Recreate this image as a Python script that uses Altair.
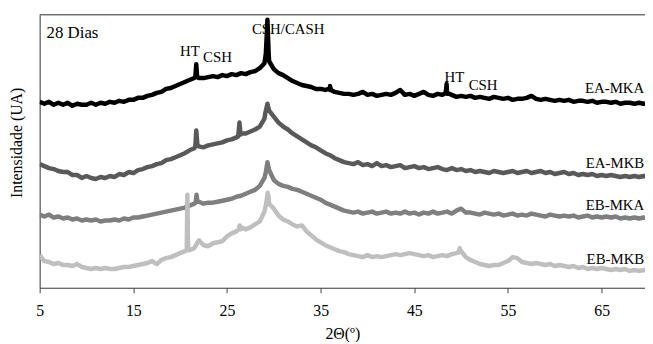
import altair as alt
import pandas as pd

# 2-theta grid (degrees), 0.5 step
two_theta = [5.0, 5.5, 6.0, 6.5, 7.0, 7.5, 8.0, 8.5, 9.0, 9.5, 10.0, 10.5, 11.0, 11.5, 12.0, 12.5,
             13.0, 13.5, 14.0, 14.5, 15.0, 15.5, 16.0, 16.5, 17.0, 17.5, 18.0, 18.5, 19.0, 19.5, 20.0, 20.5,
             21.0, 21.5, 22.0, 22.5, 23.0, 23.5, 24.0, 24.5, 25.0, 25.5, 26.0, 26.5, 27.0, 27.5, 28.0, 28.5,
             29.0, 29.5, 30.0, 30.5, 31.0, 31.5, 32.0, 32.5, 33.0, 33.5, 34.0, 34.5, 35.0, 35.5, 36.0, 36.5,
             37.0, 37.5, 38.0, 38.5, 39.0, 39.5, 40.0, 40.5, 41.0, 41.5, 42.0, 42.5, 43.0, 43.5, 44.0, 44.5,
             45.0, 45.5, 46.0, 46.5, 47.0, 47.5, 48.0, 48.5, 49.0, 49.5, 50.0, 50.5, 51.0, 51.5, 52.0, 52.5,
             53.0, 53.5, 54.0, 54.5, 55.0, 55.5, 56.0, 56.5, 57.0, 57.5, 58.0, 58.5, 59.0, 59.5, 60.0, 60.5,
             61.0, 61.5, 62.0, 62.5, 63.0, 63.5, 64.0, 64.5, 65.0, 65.5, 66.0, 66.5, 67.0, 67.5, 68.0, 68.5,
             69.0, 69.5, 70.0]

ea_mka = [187, 185, 187, 184, 186, 184, 186, 183, 185, 184, 184, 186, 184, 186, 185, 187,
          186, 188, 187, 189, 189, 191, 191, 193, 194, 196, 197, 200, 201, 203, 205, 207,
          209, 211, 211, 211, 212, 213, 212, 214, 213, 215, 214, 216, 215, 217, 218, 221,
          226, 228, 220, 216, 214, 211, 208, 206, 204, 203, 202, 200, 200, 199, 199, 197,
          196, 195, 195, 194, 195, 197, 194, 195, 193, 194, 195, 194, 196, 199, 194, 195,
          193, 195, 197, 194, 193, 195, 194, 195, 194, 192, 193, 192, 193, 191, 192, 191,
          190, 192, 191, 190, 191, 189, 190, 190, 191, 193, 190, 189, 190, 189, 188, 189,
          188, 189, 187, 188, 188, 187, 188, 186, 187, 187, 186, 187, 185, 186, 186, 185,
          186, 185, 185]
ea_mka_peaks_x = [21.62, 21.72, 21.82, 29.15, 29.32, 29.45, 35.9, 36.0, 36.1, 48.35, 48.45, 48.55]
ea_mka_peaks_y = [212, 225, 212, 236, 270, 236, 200, 203, 199, 196, 205, 196]

ea_mkb = [124, 122, 120, 119, 117, 116, 116, 113, 113, 110, 112, 110, 109, 111, 110, 112,
          111, 114, 113, 116, 115, 118, 119, 121, 122, 124, 125, 128, 129, 131, 133, 135,
          138, 140, 142, 141, 143, 144, 145, 146, 148, 149, 151, 155, 155, 157, 159, 162,
          170, 178, 172, 166, 162, 159, 155, 152, 149, 146, 143, 141, 138, 135, 133, 130,
          128, 126, 125, 124, 126, 123, 124, 122, 125, 122, 123, 121, 122, 123, 120, 121,
          122, 120, 121, 119, 120, 121, 119, 118, 120, 118, 119, 117, 118, 116, 117, 116,
          115, 117, 116, 115, 116, 117, 115, 116, 117, 115, 116, 117, 115, 116, 114, 115,
          116, 114, 115, 113, 114, 113, 114, 112, 113, 112, 113, 112, 111, 112, 111, 112,
          111, 112, 111]
ea_mkb_peaks_x = [21.62, 21.72, 21.85, 26.2, 26.33, 26.45, 29.1, 29.32, 29.45]
ea_mkb_peaks_y = [142, 158, 143, 152, 166, 154, 176, 185, 180]

eb_mka = [73, 71, 73, 70, 71, 69, 70, 68, 69, 67, 68, 67, 68, 66, 67, 67,
          68, 67, 69, 68, 70, 70, 71, 72, 73, 74, 75, 76, 77, 78, 79, 80,
          82, 84, 86, 84, 85, 85, 86, 87, 88, 89, 91, 92, 94, 96, 98, 102,
          110, 118, 108, 104, 102, 101, 99, 98, 96, 94, 92, 90, 88, 85, 83, 81,
          79, 77, 76, 75, 76, 74, 75, 76, 74, 75, 76, 74, 75, 74, 76, 74,
          75, 73, 75, 74, 76, 74, 75, 76, 74, 77, 79, 75, 75, 74, 73, 75,
          74, 73, 74, 72, 73, 74, 72, 73, 72, 74, 73, 72, 71, 73, 72, 71,
          72, 71, 72, 70, 71, 72, 70, 71, 70, 71, 70, 71, 69, 70, 69, 70,
          69, 70, 69]
eb_mka_peaks_x = [21.65, 21.75, 21.85, 29.15, 29.32, 29.45]
eb_mka_peaks_y = [85, 93, 86, 116, 126, 120]

eb_mkb = [32, 26, 25, 23, 24, 22, 22, 21, 23, 20, 19, 18, 19, 18, 19, 18,
          18, 19, 20, 20, 21, 22, 23, 24, 26, 23, 27, 29, 30, 32, 34, 36,
          37, 39, 47, 42, 41, 44, 45, 46, 51, 54, 56, 60, 58, 60, 63, 66,
          76, 84, 79, 72, 68, 66, 63, 61, 62, 56, 52, 48, 45, 42, 40, 38,
          36, 35, 33, 32, 31, 30, 32, 30, 31, 30, 31, 32, 33, 32, 33, 34,
          33, 32, 31, 32, 30, 31, 32, 31, 33, 34, 36, 30, 27, 25, 23, 22,
          21, 22, 22, 24, 26, 30, 29, 25, 24, 23, 24, 23, 22, 23, 21, 22,
          21, 20, 21, 19, 20, 18, 19, 18, 19, 18, 17, 18, 17, 18, 16, 17,
          16, 17, 16]
eb_mkb_peaks_x = [20.7, 20.77, 20.85, 26.25, 26.35, 26.45, 29.2, 29.35, 29.45, 49.75, 49.85, 49.95]
eb_mkb_peaks_y = [37, 93, 37, 58, 62, 58, 85, 95, 90, 35, 39, 35]

series_names = ["EA-MKA", "EA-MKB", "EB-MKA", "EB-MKB"]
series_colors = ["#000000", "#595959", "#7f7f7f", "#bfbfbf"]

rows = []
for name, vals, px, py in [("EA-MKA", ea_mka, ea_mka_peaks_x, ea_mka_peaks_y),
                           ("EA-MKB", ea_mkb, ea_mkb_peaks_x, ea_mkb_peaks_y),
                           ("EB-MKA", eb_mka, eb_mka_peaks_x, eb_mka_peaks_y),
                           ("EB-MKB", eb_mkb, eb_mkb_peaks_x, eb_mkb_peaks_y)]:
    pts = list(zip(two_theta, vals)) + list(zip(px, py))
    pts.sort(key=lambda p: p[0])
    for x, y in pts:
        rows.append({"serie": name, "theta": x, "I": y})
df = pd.DataFrame(rows)

# annotations (data coordinates)
peak_text = ["HT", "CSH", "CSH/CASH", "HT", "CSH"]
peak_x = [21.05, 23.99, 31.54, 49.28, 52.34]
peak_y = [238, 232, 261, 212, 204]
label_x = [69.55, 69.55, 69.55, 69.55]
label_y = [200.5, 125.5, 82.5, 28.5]

FONT = "'Liberation Serif', 'Times New Roman', Times, serif"
AX = "#404040"
XMAX = 69.63

xs = alt.Scale(domain=[5, XMAX], nice=False, zero=False)
ys = alt.Scale(domain=[-1, 275], nice=False, zero=False)

lines = alt.Chart(df).mark_line(strokeWidth=4.5, clip=True, strokeJoin="round").encode(
    x=alt.X("theta:Q", scale=xs,
            axis=alt.Axis(values=[5, 15, 25, 35, 45, 55, 65], title="2Θ(º)", grid=False,
                          domainColor=AX, tickColor=AX, tickSize=5, labelFont=FONT, labelFontSize=16,
                          labelColor="#000000", labelPadding=10, titleFont=FONT, titleFontSize=16,
                          titleFontWeight="normal", titleColor="#000000", titleY=46,
                          titleBaseline="middle", labelFlush=False)),
    y=alt.Y("I:Q", scale=ys,
            axis=alt.Axis(labels=False, ticks=False, grid=False, domainColor=AX,
                          title="Intensidade (UA)", titleFont=FONT, titleFontSize=16,
                          titleFontWeight="normal", titleColor="#000000", titleX=-23, titleY=129,
                          titleAlign="center", titleBaseline="middle", titleAngle=270)),
    color=alt.Color("serie:N", scale=alt.Scale(domain=series_names, range=series_colors), legend=None),
    order=alt.Order("theta:Q"),
)

top_rule = alt.Chart(pd.DataFrame({"a": [0]})).mark_rule(color=AX, strokeWidth=1).encode(y=alt.value(0))

ann_df = pd.DataFrame({"t": peak_text, "x": peak_x, "y": peak_y})
ann = alt.Chart(ann_df).mark_text(font=FONT, fontSize=15, align="center", baseline="middle",
                                  color="#000000").encode(
    x=alt.X("x:Q", scale=xs), y=alt.Y("y:Q", scale=ys), text="t:N")

lab_df = pd.DataFrame({"t": series_names, "x": label_x, "y": label_y})
labs = alt.Chart(lab_df).mark_text(font=FONT, fontSize=15, align="right", baseline="middle",
                                   color="#000000").encode(
    x=alt.X("x:Q", scale=xs), y=alt.Y("y:Q", scale=ys), text="t:N")

title_df = pd.DataFrame({"t": ["28 Dias"], "x": [5.74], "y": [257]})
dias = alt.Chart(title_df).mark_text(font=FONT, fontSize=17, align="left", baseline="middle",
                                     color="#000000").encode(
    x=alt.X("x:Q", scale=xs), y=alt.Y("y:Q", scale=ys), text="t:N")

chart = alt.layer(lines, top_rule, ann, labs, dias).properties(
    width=612, height=276,
    autosize=alt.AutoSizeParams(type="none"),
    padding={"left": 32, "top": 5, "right": 0, "bottom": 53},
).configure_view(stroke=None).configure(background="#ffffff")

chart.save("out.html", embed_options={"renderer": "svg", "actions": False})
